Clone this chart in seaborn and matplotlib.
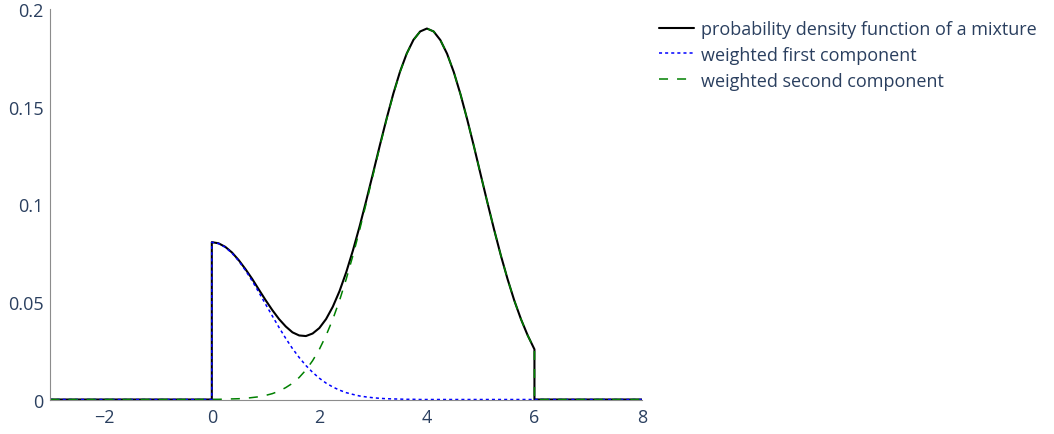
import numpy as np
import pandas as pd
import matplotlib
matplotlib.use("Agg")
import matplotlib.pyplot as plt
import seaborn as sns

# ---- data ----
x_inner = [0.0, 0.125, 0.25, 0.375, 0.5, 0.625, 0.75, 0.875,
           1.0, 1.125, 1.25, 1.375, 1.5, 1.625, 1.75, 1.875,
           2.0, 2.125, 2.25, 2.375, 2.5, 2.625, 2.75, 2.875,
           3.0, 3.125, 3.25, 3.375, 3.5, 3.625, 3.75, 3.875,
           4.0, 4.125, 4.25, 4.375, 4.5, 4.625, 4.75, 4.875,
           5.0, 5.125, 5.25, 5.375, 5.5, 5.625, 5.75, 5.875, 6.0]
x_left = [-3.0, 0.0]
x_right = [6.0, 8.0]

mixture_vals = [0.0806, 0.0800, 0.0782, 0.0753, 0.0714, 0.0668, 0.0618, 0.0563,
                0.0509, 0.0458, 0.0412, 0.0374, 0.0344, 0.0328, 0.0325, 0.0338,
                0.0366, 0.0412, 0.0475, 0.0555, 0.0652, 0.0764, 0.0888, 0.1022,
                0.1161, 0.1302, 0.1438, 0.1566, 0.1679, 0.1772, 0.1842, 0.1885,
                0.1900, 0.1885, 0.1841, 0.1771, 0.1677, 0.1563, 0.1434, 0.1296,
                0.1152, 0.1009, 0.0870, 0.0738, 0.0617, 0.0507, 0.0411, 0.0328,
                0.0257]
first_vals = [0.0805, 0.0799, 0.0780, 0.0750, 0.0710, 0.0662, 0.0608, 0.0549,
              0.0488, 0.0428, 0.0369, 0.0313, 0.0261, 0.0215, 0.0174, 0.0139,
              0.0109, 0.0084, 0.0064, 0.0048, 0.0035, 0.0026, 0.0018, 0.0013,
              0.0009, 0.0006, 0.0004, 0.0003, 0.0002, 0.0001, 0.0001, 0.0000,
              0.0, 0.0, 0.0, 0.0, 0.0, 0.0, 0.0, 0.0,
              0.0, 0.0, 0.0, 0.0, 0.0, 0.0, 0.0, 0.0,
              0.0]
second_vals = [0.0001, 0.0001, 0.0002, 0.0003, 0.0004, 0.0006, 0.0010, 0.0014,
               0.0021, 0.0030, 0.0043, 0.0061, 0.0083, 0.0113, 0.0151, 0.0199,
               0.0257, 0.0328, 0.0411, 0.0507, 0.0617, 0.0738, 0.0870, 0.1009,
               0.1152, 0.1296, 0.1434, 0.1563, 0.1677, 0.1771, 0.1841, 0.1885,
               0.1900, 0.1885, 0.1841, 0.1771, 0.1677, 0.1563, 0.1434, 0.1296,
               0.1152, 0.1009, 0.0870, 0.0738, 0.0617, 0.0507, 0.0411, 0.0328,
               0.0257]
outside_vals = [0.0, 0.0]

labels = ["probability density function of a mixture",
          "weighted first component",
          "weighted second component"]
x_ticks = [-2, 0, 2, 4, 6, 8]
y_ticks = [0, 0.05, 0.1, 0.15, 0.2]
y_ticklabels = ["0", "0.05", "0.1", "0.15", "0.2"]

# ---- style ----
sns.set_theme(style="white")
plt.rcParams["font.family"] = ["Open Sans", "DejaVu Sans"]
plt.rcParams["lines.scale_dashes"] = False
text_color = "#2a3f5f"
fs = 13

xs = x_left + x_inner + x_right
series = [
    (mixture_vals, "black", "-", 1.5),
    (first_vals, "blue", (0, (2.2, 2.2)), 1.1),
    (second_vals, "green", (0, (6.5, 6.5)), 1.1),
]

fig = plt.figure(figsize=(10.54, 4.35), dpi=100)
ax = fig.add_axes([0.0479, 0.0793, 0.5612, 0.8977])

for (vals, col, ls, lw), lab in zip(series, labels):
    ys = outside_vals + vals + outside_vals
    sns.lineplot(x=xs, y=ys, estimator=None, sort=False, ax=ax, color=col,
                 linestyle=ls, linewidth=lw, label=lab)

ax.set_xlim(-3, 8)
ax.set_ylim(0, 0.2)
ax.set_xticks(x_ticks)
ax.set_xticklabels([str(t).replace("-", "\u2212") for t in x_ticks])
ax.set_yticks(y_ticks)
ax.set_yticklabels(y_ticklabels)
ax.tick_params(axis="both", length=0, labelsize=fs, colors=text_color)
ax.tick_params(axis="x", pad=6)
ax.tick_params(axis="y", pad=5)
for s in ["top", "right"]:
    ax.spines[s].set_visible(False)
for s in ["left", "bottom"]:
    ax.spines[s].set_color("#8c8c8c")
    ax.spines[s].set_linewidth(0.8)
ax.set_xlabel("")
ax.set_ylabel("")
ax.grid(False)

leg = ax.legend(loc="upper left", bbox_to_anchor=(659 / 1054, 1 - 21 / 435),
                bbox_transform=fig.transFigure, frameon=False, borderpad=0,
                borderaxespad=0, handlelength=1.95, handletextpad=0.35,
                labelspacing=0.43, fontsize=fs)
for t in leg.get_texts():
    t.set_color(text_color)

fig.savefig("out.png", dpi=100)
